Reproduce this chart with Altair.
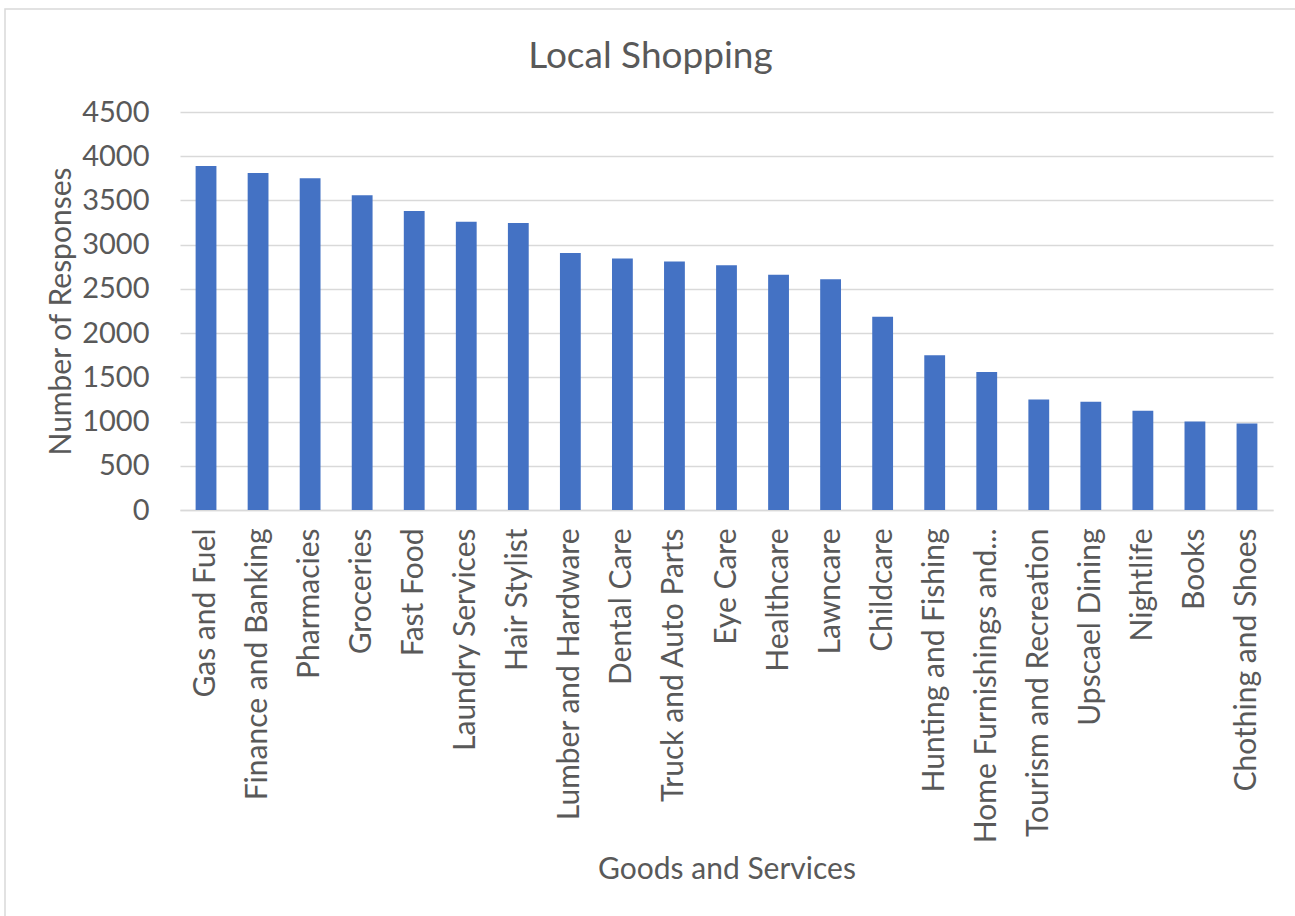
import altair as alt
import pandas as pd

categories = [
    "Gas and Fuel", "Finance and Banking", "Pharmacies", "Groceries", "Fast Food",
    "Laundry Services", "Hair Stylist", "Lumber and Hardware", "Dental Care",
    "Truck and Auto Parts", "Eye Care", "Healthcare", "Lawncare", "Childcare",
    "Hunting and Fishing", "Home Furnishings and...", "Tourism and Recreation",
    "Upscael Dining", "Nightlife", "Books", "Chothing and Shoes",
]
responses = [3890, 3810, 3750, 3560, 3380, 3260, 3245, 2905, 2845, 2810, 2767,
             2661, 2608, 2186, 1750, 1561, 1248, 1225, 1122, 1000, 977]
y_ticks = [0, 500, 1000, 1500, 2000, 2500, 3000, 3500, 4000, 4500]

df = pd.DataFrame({"Goods and Services": categories, "Number of Responses": responses})

FONT = "Lato"
TEXT = "#595959"
GRID = "#D9D9D9"
BAR = "#4472C4"

bars = alt.Chart(df).mark_bar(color=BAR).encode(
    x=alt.X(
        "Goods and Services:N",
        sort=None,
        scale=alt.Scale(paddingInner=0.6, paddingOuter=0.3),
        axis=alt.Axis(
            title="Goods and Services",
            labelAngle=270,
            labelPadding=18,
            ticks=False,
            tickSize=0,
            domainColor=GRID,
            domainWidth=1.5,
            labelFont=FONT,
            labelFontSize=30,
            labelColor=TEXT,
            labelLimit=500,
            titleFont=FONT,
            titleFontSize=30,
            titleColor=TEXT,
            titleFontWeight="normal",
            titleY=368,
            titleBaseline="alphabetic",
        ),
    ),
    y=alt.Y(
        "Number of Responses:Q",
        scale=alt.Scale(domain=[0, 4500], nice=False),
        axis=alt.Axis(
            title="Number of Responses",
            values=y_ticks,
            format="d",
            grid=True,
            gridColor=GRID,
            gridWidth=1.5,
            domain=False,
            ticks=False,
            tickSize=0,
            labelPadding=31,
            labelFont=FONT,
            labelFontSize=29,
            labelColor=TEXT,
            titleFont=FONT,
            titleFontSize=30,
            titleColor=TEXT,
            titleFontWeight="normal",
            titleX=-110,
            titleBaseline="alphabetic",
        ),
    ),
)

border = alt.Chart(alt.Data(values=[{}])).mark_rect(
    fillOpacity=0, stroke=GRID, strokeWidth=1.5
).encode(
    x=alt.value(-175), x2=alt.value(1140), y=alt.value(-103), y2=alt.value(830)
)

chart = alt.layer(border, bars).properties(
    width=1093,
    height=398,
    autosize="none",
    padding={"left": 180, "top": 112, "right": 22, "bottom": 406},
    title=alt.Title(
        "Local Shopping",
        font=FONT,
        fontSize=37,
        fontWeight="normal",
        color=TEXT,
        anchor="middle",
        baseline="alphabetic",
        dx=-76,
        dy=101,
    ),
).configure_view(stroke="transparent")

chart.save("out.html", embed_options={"renderer": "svg", "actions": False})
